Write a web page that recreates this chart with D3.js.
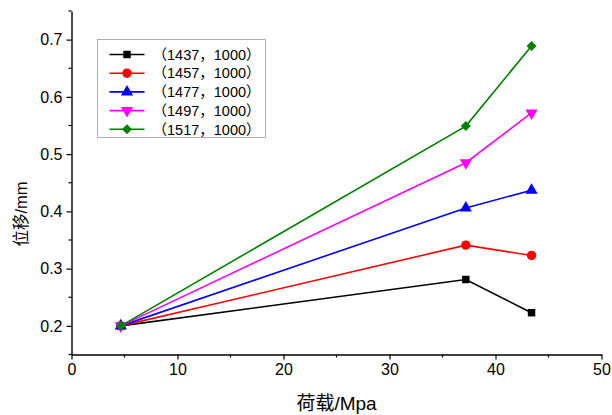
<!DOCTYPE html>
<html>
<head>
<meta charset="utf-8">
<script src="https://cdn.jsdelivr.net/npm/d3@7"></script>
<style>
  html, body { margin: 0; padding: 0; background: #fff; }
  svg { display: block; font-family: "Liberation Sans", Arial, "Noto Sans CJK SC", sans-serif; }
</style>
</head>
<body>
<div id="chart"></div>
<script>
var loads = [4.65, 37.2, 43.4];

var names = ["（1437，1000）", "（1457，1000）", "（1477，1000）", "（1497，1000）", "（1517，1000）"];

var s1437 = [0.200, 0.281, 0.223],
    s1457 = [0.200, 0.341, 0.323],
    s1477 = [0.200, 0.406, 0.437],
    s1497 = [0.200, 0.485, 0.572],
    s1517 = [0.200, 0.549, 0.689];

var xTicks = [0, 10, 20, 30, 40, 50],
    yTicks = [0.2, 0.3, 0.4, 0.5, 0.6, 0.7];

(function() {

  var width = 612,
      height = 415;

  var x = d3.scaleLinear().domain([0, 50]).range([71.5, 601.5]),
      y = d3.scaleLinear().domain([0.15, 0.75]).range([354.5, 11]);

  var series = [
    {name: names[0], values: s1437, color: "#000000", symbol: d3.symbolSquare, size: 56, rotate: 0},
    {name: names[1], values: s1457, color: "#ff0000", symbol: d3.symbolCircle, size: 70, rotate: 0},
    {name: names[2], values: s1477, color: "#0000ff", symbol: d3.symbolTriangle, size: 64, rotate: 0},
    {name: names[3], values: s1497, color: "#ff00ff", symbol: d3.symbolTriangle, size: 64, rotate: 180},
    {name: names[4], values: s1517, color: "#008000", symbol: d3.symbolSquare, size: 50, rotate: 45}
  ];

  var svg = d3.select("#chart").append("svg")
      .attr("width", width)
      .attr("height", height);

  // axes: major ticks out, minor ticks half-way
  var xAxis = d3.axisBottom(x).tickValues(xTicks).tickSize(5).tickPadding(4).tickSizeOuter(0).tickFormat(d3.format("d"));
  var yAxis = d3.axisLeft(y).tickValues(yTicks).tickSize(5).tickPadding(4).tickSizeOuter(0).tickFormat(d3.format(".1f"));

  var gx = svg.append("g")
      .attr("transform", "translate(0," + y.range()[0] + ")")
      .call(xAxis);
  gx.append("g").selectAll("line")
      .data(d3.range(5, 50, 10))
    .enter().append("line")
      .attr("x1", x).attr("x2", x)
      .attr("y1", 0).attr("y2", 3);

  var gy = svg.append("g")
      .attr("transform", "translate(" + x.range()[0] + ",0)")
      .call(yAxis);
  gy.append("g").selectAll("line")
      .data([0.15, 0.25, 0.35, 0.45, 0.55, 0.65, 0.75])
    .enter().append("line")
      .attr("y1", y).attr("y2", y)
      .attr("x1", 0).attr("x2", -3);

  svg.selectAll(".domain")
      .attr("stroke", "#000")
      .attr("stroke-width", 1.4);
  svg.selectAll("g line")
      .attr("stroke", "#000")
      .attr("stroke-width", 1.2);
  svg.selectAll(".tick text")
      .attr("fill", "#000")
      .style("font-size", "16px");

  // axis titles
  svg.append("text")
      .attr("x", (x.range()[0] + x.range()[1]) / 2)
      .attr("y", 410)
      .attr("text-anchor", "middle")
      .style("font-size", "19px")
      .text("荷载/Mpa");

  svg.append("text")
      .attr("transform", "translate(27,214) rotate(-90)")
      .attr("text-anchor", "middle")
      .style("font-size", "16.5px")
      .text("位移/mm");

  // series
  var line = d3.line()
      .x(function(d, i) { return x(loads[i]); })
      .y(function(d) { return y(d); });

  var g = svg.selectAll(".series")
      .data(series)
    .enter().append("g")
      .attr("class", "series");

  g.append("path")
      .attr("d", function(d) { return line(d.values); })
      .attr("fill", "none")
      .attr("stroke", function(d) { return d.color; })
      .attr("stroke-width", 1.6);

  g.each(function(s) {
    d3.select(this).selectAll(".pt")
        .data(s.values)
      .enter().append("path")
        .attr("class", "pt")
        .attr("d", d3.symbol().type(s.symbol).size(s.size))
        .attr("transform", function(d, i) {
          return "translate(" + x(loads[i]) + "," + y(d) + ") rotate(" + s.rotate + ")";
        })
        .attr("fill", s.color);
  });

  // legend
  var legend = svg.append("g")
      .attr("transform", "translate(97.5,39.5)");

  legend.append("rect")
      .attr("width", 168)
      .attr("height", 98)
      .attr("fill", "#fff")
      .attr("stroke", "#b0b0b0")
      .attr("stroke-width", 1);

  var item = legend.selectAll(".item")
      .data(series)
    .enter().append("g")
      .attr("class", "item")
      .attr("transform", function(d, i) { return "translate(0," + (15 + i * 18.7) + ")"; });

  item.append("line")
      .attr("x1", 12).attr("x2", 47)
      .attr("stroke", function(d) { return d.color; })
      .attr("stroke-width", 1.6);

  item.append("path")
      .attr("d", function(d) { return d3.symbol().type(d.symbol).size(d.size)(); })
      .attr("transform", function(d) { return "translate(29.5,0) rotate(" + d.rotate + ")"; })
      .attr("fill", function(d) { return d.color; });

  item.append("text")
      .attr("x", 55)
      .attr("dy", "0.36em")
      .style("font-size", "14.5px")
      .text(function(d) { return d.name; });

})();
</script>
</body>
</html>
